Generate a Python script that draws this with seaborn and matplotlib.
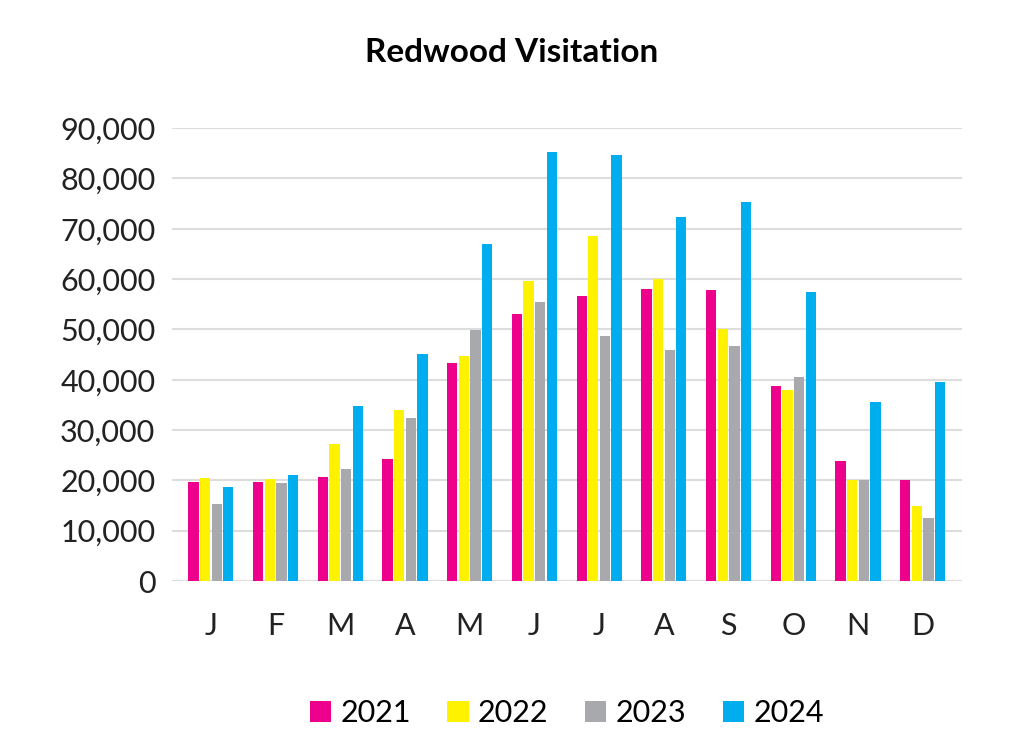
import numpy as np
import pandas as pd
import seaborn as sns
import matplotlib.pyplot as plt

months = ['J', 'F', 'M', 'A', 'M', 'J', 'J', 'A', 'S', 'O', 'N', 'D']
years = ['2021', '2022', '2023', '2024']
v2021 = [19700, 19700, 20700, 24300, 43300, 53000, 56600, 58100, 57900, 38800, 23900, 20100]
v2022 = [20500, 20300, 27300, 34000, 44800, 59700, 68600, 60000, 50000, 38000, 20000, 15000]
v2023 = [15300, 19500, 22200, 32400, 49800, 55500, 48700, 46000, 46700, 40600, 20000, 12500]
v2024 = [18700, 21100, 34700, 45200, 67000, 85200, 84600, 72300, 75400, 57400, 35500, 39600]
colors = ['#EC008C', '#FFF200', '#A7A9AC', '#00AEEF']

rows = []
for yr, vals in zip(years, [v2021, v2022, v2023, v2024]):
    for i, v in enumerate(vals):
        rows.append({'Month': i, 'Year': yr, 'Visits': v})
data = pd.DataFrame(rows)

plt.rcParams['font.family'] = 'Lato'
fig = plt.figure(figsize=(10.24, 7.45), dpi=100)
ax = fig.add_axes([0.168, 0.22, 0.771, 0.608])
sns.barplot(data=data, x='Month', y='Visits', hue='Year', palette=colors,
            saturation=1, width=0.72, gap=0.12, ax=ax, legend=True)
ax.set_ylim(0, 90000)
ax.set_xlim(-0.6, 11.6)
ax.set_yticks(range(0, 90001, 10000))
ax.set_yticklabels(['{:,}'.format(t) for t in range(0, 90001, 10000)])
ax.set_xticks(range(12))
ax.set_xticklabels(months)
ax.tick_params(axis='both', length=0, labelsize=22, colors='#222222')
ax.tick_params(axis='x', pad=22)
ax.tick_params(axis='y', pad=12)
ax.yaxis.grid(True, color='#DDDDDD', linewidth=1.5)
ax.set_axisbelow(True)
for s in ax.spines.values():
    s.set_visible(False)
ax.set_xlabel('')
ax.set_ylabel('')
ax.legend(loc='upper center', bbox_to_anchor=(0.5, -0.2), ncol=4, frameon=False,
          fontsize=22, handlelength=0.7, handleheight=0.7, handletextpad=0.3,
          columnspacing=1.2)
fig.text(0.5, 0.93, 'Redwood Visitation', ha='center', va='center',
         fontsize=24, fontweight='bold')
fig.savefig('out.png', dpi=100)
